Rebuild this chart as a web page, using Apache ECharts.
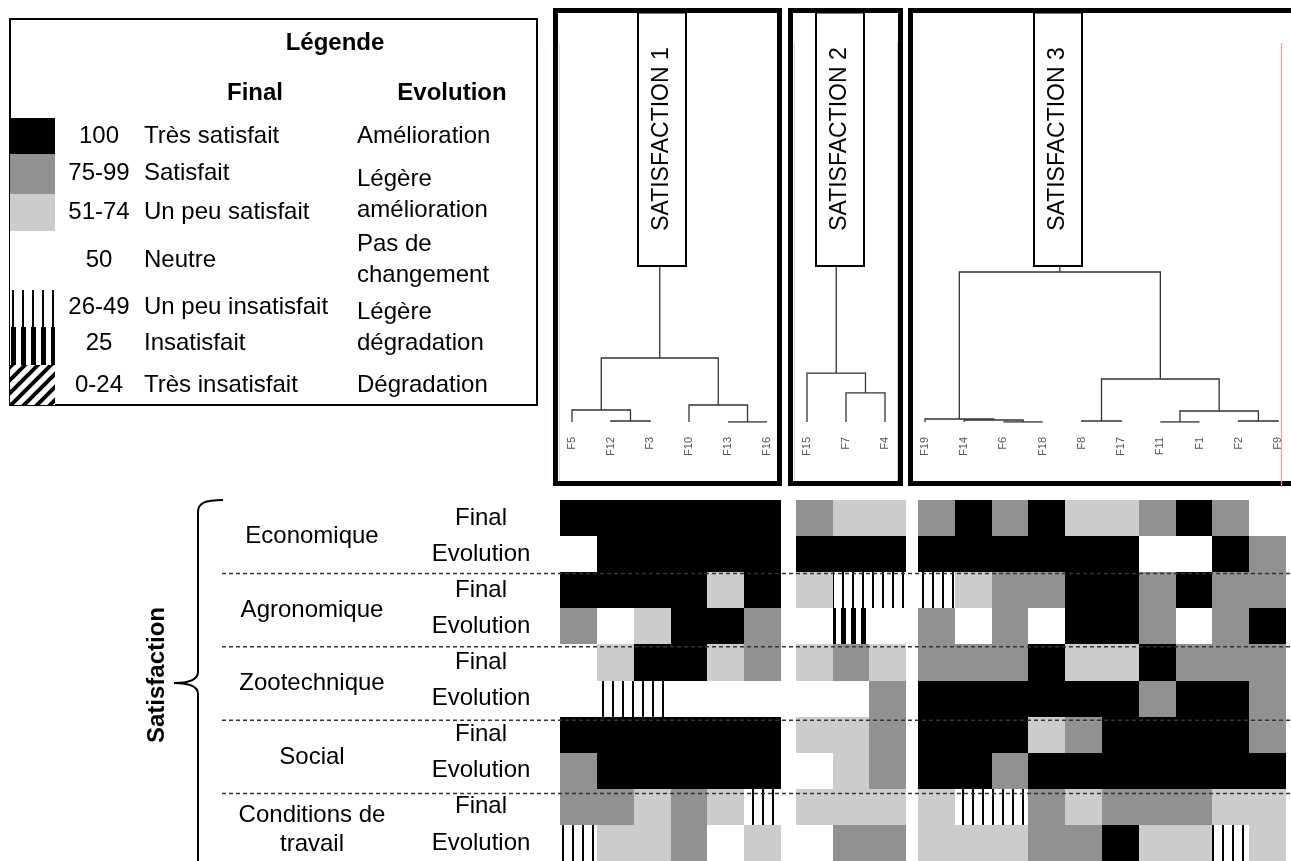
<!DOCTYPE html>
<html>
<head>
<meta charset="utf-8">
<script src="https://cdn.jsdelivr.net/npm/echarts@6/dist/echarts.min.js"></script>
<style>
html, body { margin: 0; padding: 0; background: #fff; }
#chart { width: 1291px; height: 861px; }
</style>
</head>
<body>
<div id="chart"></div>
<script>
var FONT = '"Liberation Sans", Arial, sans-serif';

// leaf order of each cluster (also the heatmap column order)
var cols1 = ['F5', 'F12', 'F3', 'F10', 'F13', 'F16'];
var cols2 = ['F15', 'F7', 'F4'];
var cols3 = ['F19', 'F14', 'F6', 'F18', 'F8', 'F17', 'F11', 'F1', 'F2', 'F9'];

// hclust style merges: [left, right, height], negative = leaf, positive = earlier merge
var merge1 = [[-2, -3, 0.25], [-1, 1, 3], [-5, -6, 0], [-4, 3, 4.25], [2, 4, 16]];
var merge2 = [[-2, -3, 7.3], [-1, 1, 12.2]];
var merge3 = [[-3, -4, 0], [-2, 1, 0.5], [-1, 2, 0.75], [-5, -6, 0.25], [-7, -8, 0],
              [-9, -10, 0.25], [5, 6, 2.75], [4, 7, 10.75], [3, 8, 37.5]];
var treeTop = 39;

// heatmap rows
var heatRows = ['Final', 'Evolution', 'Final', 'Evolution', 'Final', 'Evolution',
                'Final', 'Evolution', 'Final', 'Evolution'];
var themes = ['Economique', 'Agronomique', 'Zootechnique', 'Social', 'Conditions de\ntravail'];

// class per cell: 0=100, 1=75-99, 2=51-74, 3=50, 4=26-49, 5=25, 6=0-24
var levels1 = [
  [0, 0, 0, 0, 0, 0],
  [3, 0, 0, 0, 0, 0],
  [0, 0, 0, 0, 2, 0],
  [1, 3, 2, 0, 0, 1],
  [3, 2, 0, 0, 2, 1],
  [3, 4, 4, 3, 3, 3],
  [0, 0, 0, 0, 0, 0],
  [1, 0, 0, 0, 0, 0],
  [1, 1, 2, 1, 2, 4],
  [4, 2, 2, 1, 3, 2]
];
var levels2 = [
  [1, 2, 2],
  [0, 0, 0],
  [2, 4, 4],
  [3, 5, 3],
  [2, 1, 2],
  [3, 3, 1],
  [2, 2, 1],
  [3, 2, 1],
  [2, 2, 2],
  [3, 1, 1]
];
var levels3 = [
  [1, 0, 1, 0, 2, 2, 1, 0, 1, 3],
  [0, 0, 0, 0, 0, 0, 3, 3, 0, 1],
  [4, 2, 1, 1, 0, 0, 1, 0, 1, 1],
  [1, 3, 1, 3, 0, 0, 1, 3, 1, 0],
  [1, 1, 1, 0, 2, 2, 0, 1, 1, 1],
  [0, 0, 0, 0, 0, 0, 1, 0, 0, 1],
  [0, 0, 0, 2, 1, 0, 0, 0, 0, 1],
  [0, 0, 1, 0, 0, 0, 0, 0, 0, 0],
  [2, 4, 4, 1, 2, 1, 1, 1, 2, 2],
  [2, 2, 2, 1, 1, 0, 2, 2, 4, 2]
];

// legend
var classRanges = ['100', '75-99', '51-74', '50', '26-49', '25', '0-24'];
var finalLabels = ['Très satisfait', 'Satisfait', 'Un peu satisfait', 'Neutre',
                   'Un peu insatisfait', 'Insatisfait', 'Très insatisfait'];
var evolLabels = ['Amélioration', 'Légère\namélioration', 'Pas de\nchangement',
                  'Légère\ndégradation', 'Dégradation'];

// ---------- fills ----------
function tile(w, h, draw) {
  var c = document.createElement('canvas');
  c.width = w; c.height = h;
  var ctx = c.getContext('2d');
  ctx.fillStyle = '#fff';
  ctx.fillRect(0, 0, w, h);
  draw(ctx);
  return { image: c, repeat: 'repeat' };
}
var thinStripes = tile(10, 10, function (ctx) { ctx.fillStyle = '#000'; ctx.fillRect(2, 0, 2, 10); });
var thickStripes = tile(10, 10, function (ctx) { ctx.fillStyle = '#000'; ctx.fillRect(1, 0, 5, 10); });
var diagStripes = tile(13, 13, function (ctx) {
  ctx.strokeStyle = '#000'; ctx.lineWidth = 4;
  ctx.beginPath();
  ctx.moveTo(-6.5, 6.5); ctx.lineTo(6.5, -6.5);
  ctx.moveTo(0, 13); ctx.lineTo(13, 0);
  ctx.moveTo(6.5, 19.5); ctx.lineTo(19.5, 6.5);
  ctx.stroke();
});
var fills = ['#000000', '#919191', '#cccccc', '#ffffff', thinStripes, thickStripes, diagStripes];

// ---------- layout ----------
var heatTop = 500, rowH = 36.7;
var heatGrids = [
  { left: 560, width: 221, cols: cols1, levels: levels1 },
  { left: 796, width: 110, cols: cols2, levels: levels2 },
  { left: 918, width: 368, cols: cols3, levels: levels3 }
];
var treeGrids = [
  { left: 572, width: 195, leaves: cols1, merge: merge1 },
  { left: 807, width: 78, leaves: cols2, merge: merge2 },
  { left: 925, width: 353, leaves: cols3, merge: merge3 }
];

function dendroSegments(merge) {
  var xs = [], hs = [], segs = [];
  function pos(c) { return c < 0 ? [-c - 1, 0] : [xs[c - 1], hs[c - 1]]; }
  merge.forEach(function (m) {
    var a = pos(m[0]), b = pos(m[1]);
    segs.push([[a[0], a[1]], [a[0], m[2]], [b[0], m[2]], [b[0], b[1]]]);
    xs.push((a[0] + b[0]) / 2);
    hs.push(m[2]);
  });
  var n = xs.length - 1;
  segs.push([[xs[n], hs[n]], [xs[n], treeTop]]);
  return segs;
}

function renderCell(params, api) {
  var p = api.coord([api.value(0), api.value(1)]);
  var s = api.size([1, 1]);
  var x0 = Math.round(p[0] - s[0] / 2), x1 = Math.round(p[0] + s[0] / 2);
  var y0 = Math.round(p[1] - s[1] / 2), y1 = Math.round(p[1] + s[1] / 2);
  return {
    type: 'rect',
    shape: { x: x0, y: y0, width: x1 - x0, height: y1 - y0 },
    style: { fill: fills[api.value(2)] }
  };
}

var grid = [], xAxis = [], yAxis = [], series = [];

heatGrids.forEach(function (g, i) {
  grid.push({ left: g.left, width: g.width, top: heatTop, height: rowH * heatRows.length });
  xAxis.push({
    type: 'category', gridIndex: i, data: g.cols, show: false
  });
  yAxis.push({
    type: 'category', gridIndex: i, inverse: true,
    data: heatRows.map(function (r, k) { return String(k); }),
    axisLine: { show: false }, axisTick: { show: false }, splitLine: { show: false },
    axisLabel: {
      show: i === 0, interval: 0, margin: 79, align: 'center',
      fontFamily: FONT, fontSize: 24, color: '#000',
      formatter: function (v, k) { return heatRows[k]; }
    }
  });
  var data = [];
  g.levels.forEach(function (row, r) {
    row.forEach(function (lv, c) { data.push([c, r, lv]); });
  });
  series.push({
    type: 'custom', xAxisIndex: i, yAxisIndex: i, silent: true,
    renderItem: renderCell, data: data
  });
});

treeGrids.forEach(function (t, j) {
  var idx = heatGrids.length + j;
  grid.push({ left: t.left, width: t.width, top: 266, height: 156 });
  xAxis.push({
    type: 'value', gridIndex: idx, min: 0, max: t.leaves.length - 1, interval: 1,
    axisLine: { show: false }, axisTick: { show: false }, splitLine: { show: false },
    axisLabel: {
      rotate: 90, margin: 15, fontFamily: FONT, fontSize: 11, color: '#555',
      formatter: function (v) { return t.leaves[v]; }
    }
  });
  yAxis.push({ type: 'value', gridIndex: idx, min: 0, max: treeTop, show: false });
  series.push({
    type: 'lines', coordinateSystem: 'cartesian2d', xAxisIndex: idx, yAxisIndex: idx,
    polyline: true, silent: true,
    lineStyle: { color: '#333', width: 1.3, opacity: 1 },
    data: dendroSegments(t.merge).map(function (s) { return { coords: s }; })
  });
});

// ---------- decoration ----------
var graphics = [];
function txt(text, x, y, opt) {
  opt = opt || {};
  graphics.push({
    type: 'text', x: x, y: y, rotation: opt.rotation || 0, z: 50,
    style: {
      text: text, x: 0, y: 0, fill: '#000',
      font: (opt.bold ? 'bold ' : '') + (opt.size || 24) + 'px ' + FONT,
      align: opt.align || 'center', textAlign: opt.align || 'center',
      verticalAlign: 'middle', textVerticalAlign: 'middle',
      lineHeight: opt.lineHeight || 29
    }
  });
}
function line(x1, y1, x2, y2, stroke, w, dash) {
  graphics.push({
    type: 'line', z: 50, shape: { x1: x1, y1: y1, x2: x2, y2: y2 },
    style: { stroke: stroke, lineWidth: w, lineDash: dash || null }
  });
}
function box(x, y, w, h, lw, fill) {
  graphics.push({
    type: 'rect', z: 40, shape: { x: x, y: y, width: w, height: h },
    style: { fill: fill || 'none', stroke: '#000', lineWidth: lw }
  });
}

// legend box
box(10, 19, 527, 386, 2);
txt('Légende', 335, 43, { bold: true });
txt('Final', 255, 93, { bold: true });
txt('Evolution', 452, 93, { bold: true });
var swatchY = [118, 154, 194, 231, 290, 327, 365, 405];
var rowY = [136, 173, 212, 260, 307, 343, 385];
classRanges.forEach(function (r, k) {
  graphics.push({
    type: 'rect', z: 40,
    shape: { x: 10, y: swatchY[k], width: 45, height: swatchY[k + 1] - swatchY[k] },
    style: { fill: fills[k], stroke: null }
  });
  txt(r, 99, rowY[k]);
  txt(finalLabels[k], 144, rowY[k], { align: 'left' });
});
var evolY = [136, 195, 260, 328, 385];
evolLabels.forEach(function (e, k) { txt(e, 357, evolY[k], { align: 'left', lineHeight: 31 }); });

// dendrogram panels
box(555.5, 10.5, 224, 473, 5);
box(790.5, 10.5, 110, 473, 5);
box(910.5, 10.5, 400, 473, 5);
line(559.5, 43, 559.5, 481, '#c6ebbd', 1);
line(794.5, 43, 794.5, 481, '#d0d0d0', 1);
line(897.5, 43, 897.5, 481, '#d0d0d0', 1);
line(1281.5, 43, 1281.5, 487, '#f2a08c', 1.2);
[[638, 662, 'SATISFACTION 1'], [816, 839.5, 'SATISFACTION 2'], [1034, 1058, 'SATISFACTION 3']]
  .forEach(function (b) {
    box(b[0], 12.5, 48, 253.5, 2, '#fff');
    txt(b[2], b[1], 139, { rotation: Math.PI / 2, size: 23 });
  });

// row separators and labels
for (var k = 2; k < heatRows.length; k += 2) {
  var yy = heatTop + k * rowH;
  line(222, yy, 1291, yy, '#333', 1.5, [4, 3]);
}
themes.forEach(function (t, k) {
  txt(t, 312, heatTop + (2 * k + 1) * rowH);
});
txt('Satisfaction', 157, 675, { bold: true, size: 24, rotation: Math.PI / 2 });

// brace
var braceParts = [
  { type: 'bezierCurve', shape: { x1: 223, y1: 500, cpx1: 205, cpy1: 500, cpx2: 198, cpy2: 503, x2: 198, y2: 512 } },
  { type: 'line', shape: { x1: 198, y1: 512, x2: 198, y2: 672 } },
  { type: 'bezierCurve', shape: { x1: 198, y1: 672, cpx1: 198, cpy1: 680, cpx2: 188, cpy2: 683, x2: 174, y2: 683 } },
  { type: 'bezierCurve', shape: { x1: 174, y1: 683, cpx1: 188, cpy1: 683, cpx2: 198, cpy2: 686, x2: 198, y2: 694 } },
  { type: 'line', shape: { x1: 198, y1: 694, x2: 198, y2: 870 } }
];
braceParts.forEach(function (p) {
  p.z = 50;
  p.style = { stroke: '#000', lineWidth: 2, fill: null };
  graphics.push(p);
});

var chart = echarts.init(document.getElementById('chart'), null, { renderer: 'canvas' });
chart.setOption({
  animation: false,
  backgroundColor: '#fff',
  grid: grid,
  xAxis: xAxis,
  yAxis: yAxis,
  series: series,
  graphic: { elements: graphics }
});
</script>
</body>
</html>
